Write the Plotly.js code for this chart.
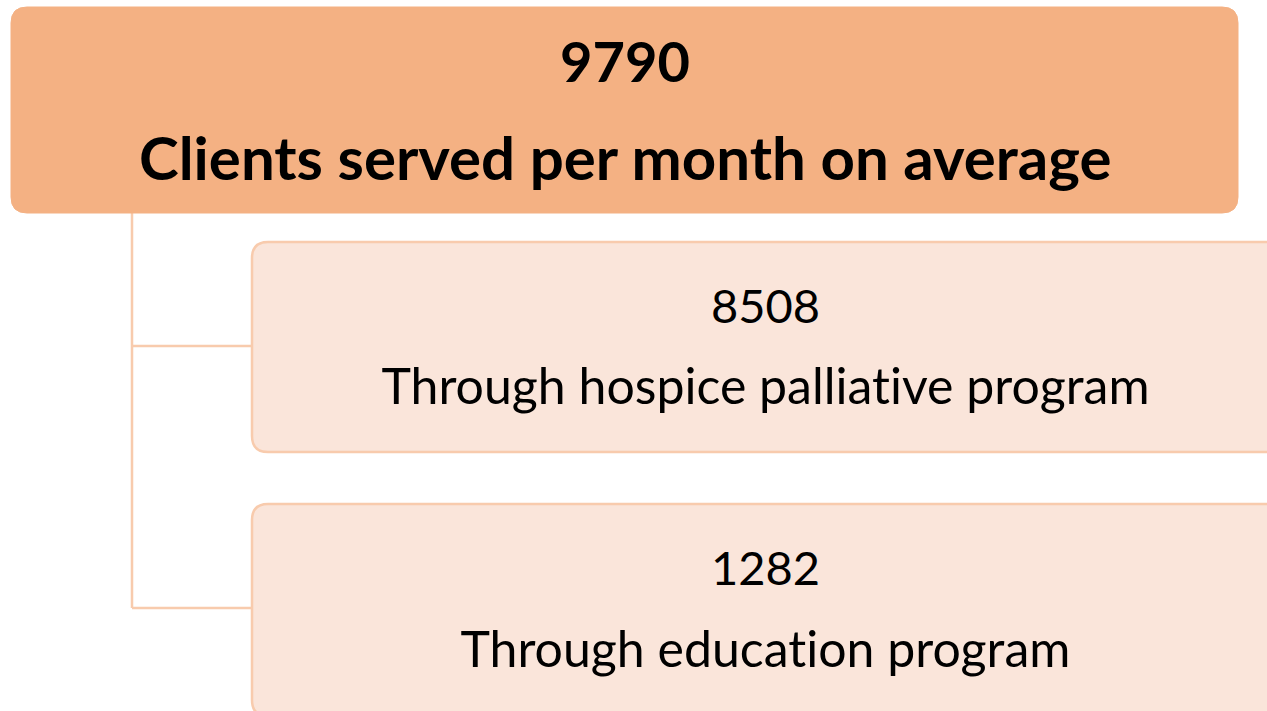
<!DOCTYPE html>
<html><head><meta charset="utf-8">
<script src="https://cdn.plot.ly/plotly-3.0.1.min.js"></script>
<style>html,body{margin:0;padding:0;background:#fff}#c{width:1267px;height:711px}
#c text{font-variant-ligatures:none;font-feature-settings:"liga" 0, "clig" 0;}</style>
</head><body><div id="c"></div>
<script>
// Data
const rootValue = 9790;
const rootLabel = "Clients served per month on average";
const childValues = [8508, 1282];
const childLabels = ["Through hospice palliative program", "Through education program"];

// Layout geometry (pixel-space axes)
const W = 1267, H = 711;
const root = {x0: 11, x1: 1238, y0: 7, y1: 213, r: 16};
const childBoxes = [
  {x0: 252, x1: 1282, y0: 242, y1: 452, r: 16},
  {x0: 252, x1: 1282, y0: 504, y1: 716, r: 16}
];
const spineX = 132;
const branchY = [346, 608];

function rr(b){
  const r=b.r;
  return `M ${b.x0+r} ${b.y0} L ${b.x1-r} ${b.y0} Q ${b.x1} ${b.y0} ${b.x1} ${b.y0+r} L ${b.x1} ${b.y1-r} Q ${b.x1} ${b.y1} ${b.x1-r} ${b.y1} L ${b.x0+r} ${b.y1} Q ${b.x0} ${b.y1} ${b.x0} ${b.y1-r} L ${b.x0} ${b.y0+r} Q ${b.x0} ${b.y0} ${b.x0+r} ${b.y0} Z`;
}

const lineColor = "#F8CBAD";
const shapes = [];
shapes.push({type:"line", xref:"x", yref:"y", x0:spineX, x1:spineX, y0:root.y1, y1:branchY[1], line:{color:lineColor, width:2.5}, layer:"below"});
childBoxes.forEach((b, i) => shapes.push({type:"line", xref:"x", yref:"y", x0:spineX, x1:b.x0, y0:branchY[i], y1:branchY[i], line:{color:lineColor, width:2.5}, layer:"below"}));
shapes.push({type:"path", xref:"x", yref:"y", path: rr(root), fillcolor:"#F4B183", line:{color:"#F4B183", width:1}});
childBoxes.forEach(b => shapes.push({type:"path", xref:"x", yref:"y", path: rr(b), fillcolor:"#FAE5DA", line:{color:"#F8CBAD", width:2.5}}));

const fam = "Lato, 'Open Sans', sans-serif";
const annotations = [];
const rcx = (root.x0 + root.x1) / 2;
annotations.push({x: rcx, y: 60, xref:"x", yref:"y", text: "<b>" + rootValue + "</b>", showarrow:false, font:{family:fam, size:56, color:"#000"}, xanchor:"center", yanchor:"middle"});
annotations.push({x: rcx, y: 157, xref:"x", yref:"y", text: "<b>" + rootLabel + "</b>", showarrow:false, font:{family:fam, size:60, color:"#000"}, xanchor:"center", yanchor:"middle"});
const valY = [305, 567], labY = [385, 648];
childBoxes.forEach((b, i) => {
  const cx = 765;
  annotations.push({x: cx, y: valY[i], xref:"x", yref:"y", text: String(childValues[i]), showarrow:false, font:{family:fam, size:47, color:"#000"}, xanchor:"center", yanchor:"middle"});
  annotations.push({x: cx, y: labY[i], xref:"x", yref:"y", text: childLabels[i], showarrow:false, font:{family:fam, size:50, color:"#000"}, xanchor:"center", yanchor:"middle"});
});

Plotly.newPlot("c", [], {
  width: W, height: H,
  margin: {l:0, r:0, t:0, b:0},
  paper_bgcolor: "#fff", plot_bgcolor: "#fff",
  xaxis: {range:[0, W], visible:false, fixedrange:true},
  yaxis: {range:[H, 0], visible:false, fixedrange:true},
  shapes, annotations, showlegend:false
}, {staticPlot:true, displayModeBar:false});
</script></body></html>
